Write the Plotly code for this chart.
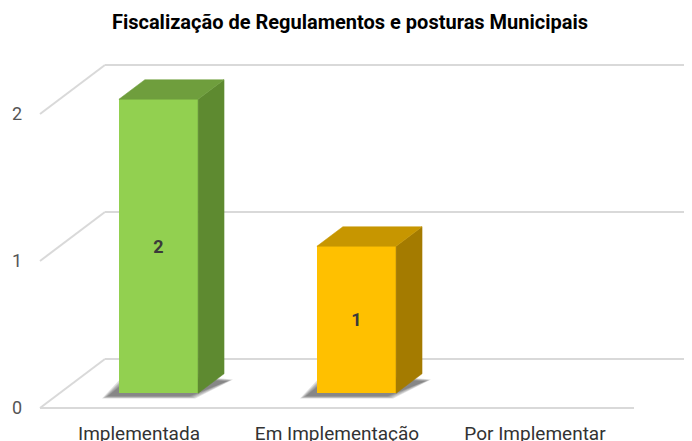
import plotly.graph_objects as go

# ---------------- data ----------------
categories = ["Implementada", "Em Implementação", "Por Implementar"]
values = [2, 1, 0]
y_ticks = [0, 1, 2]
title_text = "Fiscalização de Regulamentos e posturas Municipais"

# ---------------- style ----------------
front_colors = ["#92D050", "#FFC000", "#A5A5A5"]
top_colors = ["#6F9E3D", "#C79600", "#808080"]
side_colors = ["#5E8A30", "#A47B00", "#6E6E6E"]

DX, DY = 0.328, 0.333          # projected depth of the floor (style)
F0, F1 = 0.3, 0.7              # depth span of each bar inside the floor
HALF = 0.2                     # half width of bar front face
FLOOR_X0 = -0.5
FLOOR_X1 = len(categories) - 0.5
X_MIN, X_MAX = -0.5606, 2.793
Y_MIN, Y_MAX = -0.0476, 2.503
PAGE_OFF = 8                   # default body margin of the html page

def path(pts):
    return "M " + " L ".join(f"{x},{y}" for x, y in pts) + " Z"

shapes = []
grid_col = "#D9D9D9"
for v in y_ticks:
    shapes.append(dict(type="line", xref="x", yref="y", layer="below",
                       x0=FLOOR_X0, y0=v, x1=FLOOR_X0 + DX, y1=v + DY,
                       line=dict(color=grid_col, width=2)))
    shapes.append(dict(type="line", xref="x", yref="y", layer="below",
                       x0=FLOOR_X0 + DX, y0=v + DY, x1=X_MAX + 1, y1=v + DY,
                       line=dict(color=grid_col, width=2)))
shapes.append(dict(type="line", xref="x", yref="y", layer="below",
                   x0=FLOOR_X0, y0=y_ticks[0], x1=FLOOR_X1, y1=y_ticks[0],
                   line=dict(color=grid_col, width=2)))

bx = [i + F0 * DX for i in range(len(categories))]
base = F0 * DY
ddx, ddy = (F1 - F0) * DX, (F1 - F0) * DY

side_traces = []
for i, v in enumerate(values):
    if v <= 0:
        continue
    xl, xr = bx[i] - HALF, bx[i] + HALF
    yb, yt = base, base + v
    # soft shadow: stacked translucent layers to fake a blur
    for k in range(5):
        e = 0.035 - k * 0.007
        sx, sy = -0.05, -0.015
        pts = [(xl + sx - e, yb + sy - e * 0.6), (xr + sx + e, yb + sy - e * 0.6),
               (xr + ddx + 0.01 + e, yb + ddy * 0.6 + e * 0.4),
               (xl + ddx + sx - e, yb + ddy + sy + e)]
        shapes.append(dict(type="path", xref="x", yref="y", layer="below",
                           path=path(pts), fillcolor="#2A2A2A", opacity=0.15,
                           line=dict(width=0)))
    side = [(xr, yb), (xr + ddx, yb + ddy), (xr + ddx, yt + ddy), (xr, yt), (xr, yb)]
    top = [(xl, yt), (xr, yt), (xr + ddx, yt + ddy), (xl + ddx, yt + ddy), (xl, yt)]
    for pts, col in ((side, side_colors[i]), (top, top_colors[i])):
        side_traces.append(go.Scatter(
            x=[p[0] for p in pts], y=[p[1] for p in pts], mode="lines",
            fill="toself", fillcolor=col, line=dict(width=0.5, color=col),
            hoverinfo="skip", showlegend=False))

fig = go.Figure()
fig.add_trace(go.Bar(
    x=bx, y=values, base=base, width=2 * HALF,
    marker=dict(color=front_colors, line=dict(width=0)),
    text=[f"<b>{v}</b>" if v > 0 else "" for v in values],
    textposition="inside", insidetextanchor="middle",
    textfont=dict(family="Roboto", size=18, color="#3A3A3A"),
    showlegend=False))
for t in side_traces:
    fig.add_trace(t)

fig.update_layout(
    width=692, height=441,
    margin=dict(l=28 - PAGE_OFF, r=PAGE_OFF, t=40 - PAGE_OFF, b=26 + PAGE_OFF),
    paper_bgcolor="white", plot_bgcolor="white",
    shapes=shapes,
    title=dict(text=f"<b>{title_text}</b>", x=(350 - PAGE_OFF) / 692,
               xref="container", xanchor="center",
               y=1 - (22 - PAGE_OFF) / 441, yref="container",
               yanchor="middle", automargin=False,
               font=dict(family="Roboto", size=20, color="#000000")),
    xaxis=dict(range=[X_MIN, X_MAX], tickvals=list(range(len(categories))),
               ticktext=categories, showgrid=False, zeroline=False,
               showline=False, ticks="", automargin=False,
               ticklabelstandoff=5,
               tickfont=dict(family="Roboto", size=19, color="#333333")),
    yaxis=dict(range=[Y_MIN, Y_MAX], tickvals=y_ticks,
               ticktext=[str(v) for v in y_ticks], showgrid=False,
               zeroline=False, showline=False, ticks="", automargin=False,
               ticklabelstandoff=5,
               tickfont=dict(family="Roboto", size=18, color="#555555")),
    bargap=0,
)

fig.write_html("out.html")
